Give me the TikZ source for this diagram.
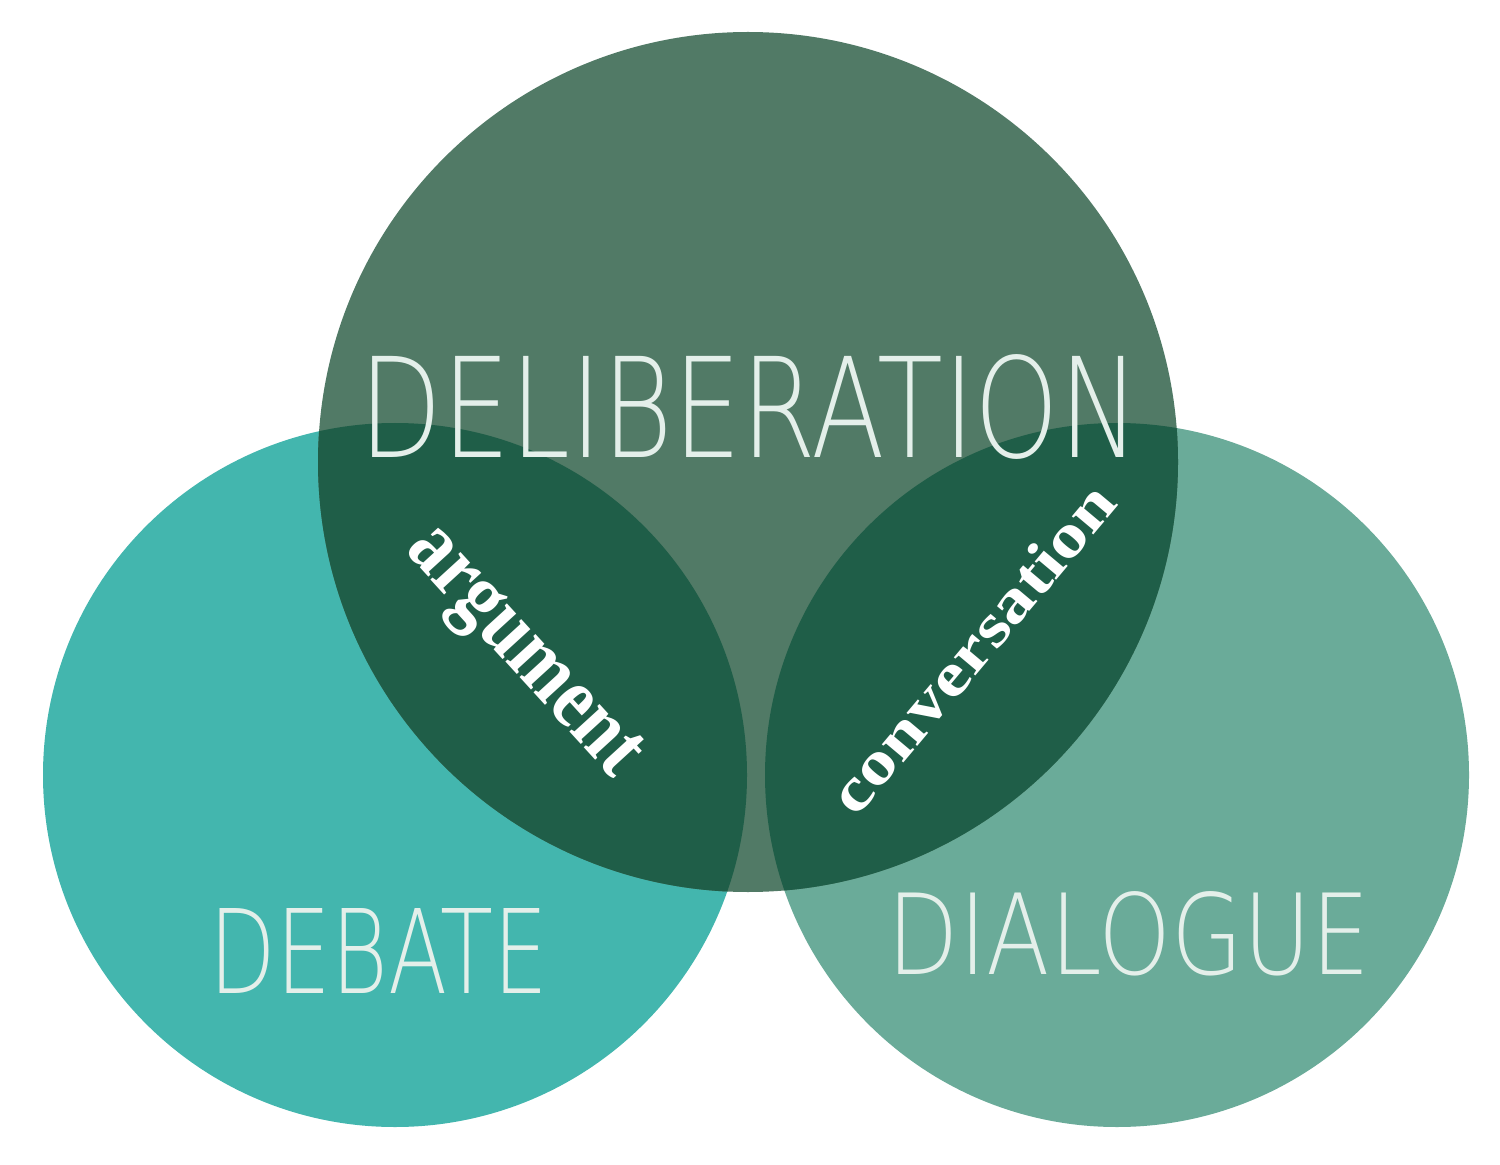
\documentclass[tikz,border=0pt]{standalone}
\usepackage{fontspec}
\newfontfamily\thinf{DejaVu Sans ExtraLight}
\newfontfamily\serifb{Liberation Serif}
\definecolor{topc}{HTML}{517A66}
\definecolor{leftc}{HTML}{43B6AE}
\definecolor{rightc}{HTML}{6AAB99}
\definecolor{darkc}{HTML}{1F5E48}
\definecolor{txt}{HTML}{E4EFEA}
\tikzset{big/.style={text=txt,inner sep=0pt},small/.style={text=white,inner sep=0pt}}
\begin{document}
\begin{tikzpicture}[x=0.02cm,y=-0.02cm]
\useasboundingbox (0,0) rectangle (1500,1165);
\fill[leftc] (395,775) circle (352);
\fill[rightc] (1117,775) circle (352);
\fill[topc] (748,462) circle (430);
\begin{scope}
\clip (748,462) circle (430);
\fill[darkc] (395,775) circle (352);
\fill[darkc] (1117,775) circle (352);
\end{scope}
\node[big] (delib) at (750,407) {\resizebox{15.6cm}{2.06cm}{\thinf DELIBERATION}};
\node[big] (debate) at (379,951) {\resizebox{6.76cm}{1.7cm}{\thinf DEBATE}};
\node[big] (dialogue) at (1129,934) {\resizebox{9.64cm}{1.66cm}{\thinf DIALOGUE}};
\node[small,rotate=-47.6] (arg) at (520,655) {\resizebox{6.2cm}{1.0cm}{\serifb\bfseries argument}};
\node[small,rotate=50] (conv) at (972,648) {\resizebox{8.2cm}{0.85cm}{\serifb\bfseries conversation}};
\end{tikzpicture}
\end{document}
